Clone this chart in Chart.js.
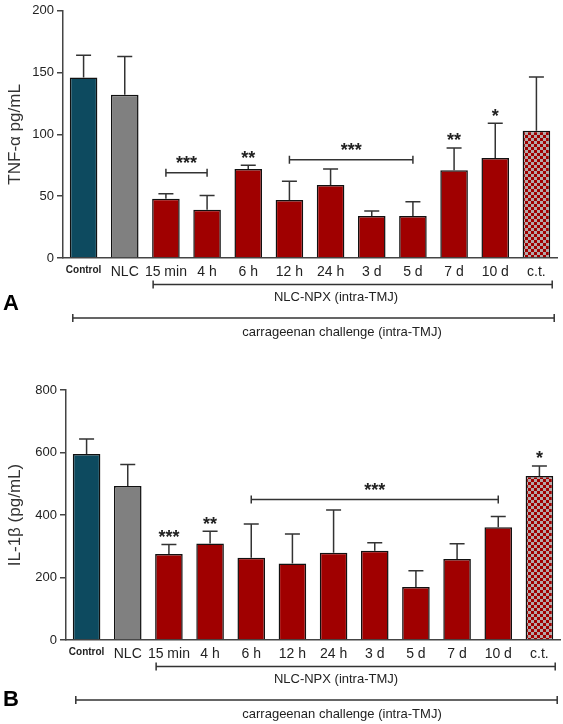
<!DOCTYPE html>
<html lang="en">
<head>
  <meta charset="UTF-8" />
  <title>TNF-α and IL-1β after carrageenan challenge</title>
  <script src="https://cdn.jsdelivr.net/npm/chart.js"></script>
  <style>
    body {
      margin: 0;
      background: #fff;
    }
    .panel {
      position: absolute;
      left: 0;
      width: 563px;
      height: 362px;
    }
    #panelA { top: 0; }
    #panelB { top: 362px; }
  </style>
</head>
<body>

<div class="panel" id="panelA"><canvas id="chartA" width="563" height="362"></canvas></div>
<div class="panel" id="panelB"><canvas id="chartB" width="563" height="362"></canvas></div>

<script>
  // groups on the x axis
  const categories = ['Control', 'NLC', '15 min', '4 h', '6 h', '12 h', '24 h', '3 d', '5 d', '7 d', '10 d', 'c.t.'];

  // panel A: TNF-alpha (pg/mL), mean and SEM
  const tnfMean = [146, 132, 48, 39, 72, 47, 59, 34, 34, 71, 81, 103];
  const tnfSem = [18, 31, 4, 11.5, 3, 15, 13, 4, 11.5, 18, 28, 43.5];
  const tnfStars = ['', '', '', '', '**', '', '', '', '', '**', '*', ''];
  // [from, to, label, height]
  const tnfBrackets = [[2, 3, '***', 69], [5, 8, '***', 79.5]];

  // panel B: IL-1beta (pg/mL), mean and SEM
  const il1bMean = [595, 493, 275, 309, 263, 245, 279, 286, 170, 259, 361, 525];
  const il1bSem = [48, 69, 31, 39, 108, 94, 137, 25, 52, 49, 34, 32];
  const il1bStars = ['', '', '***', '**', '', '', '', '', '', '', '', '*'];
  const il1bBrackets = [[4, 10, '***', 450]];

  const controlColor = '#0d4a5f';
  const nlcColor = '#808080';
  const red = '#a00000';
  const font = "'Liberation Sans', Arial, sans-serif";
  const narrow = "'Liberation Sans Narrow', 'Liberation Sans', Arial, sans-serif";

  // checkered fill for the c.t. bar
  function checker() {
    const c = document.createElement('canvas');
    c.width = 6;
    c.height = 6;
    const g = c.getContext('2d');
    g.fillStyle = '#b4a8a8';
    g.fillRect(0, 0, 6, 6);
    g.fillStyle = red;
    g.fillRect(0, 0, 3, 3);
    g.fillRect(3, 3, 3, 3);
    return g.createPattern(c, 'repeat');
  }

  const barColors = [controlColor, nlcColor, red, red, red, red, red, red, red, red, red, checker()];

  function drawStars(ctx, label, cx, cy) {
    ctx.font = 'bold 18px ' + font;
    ctx.textAlign = 'center';
    ctx.textBaseline = 'alphabetic';
    ctx.fillStyle = '#222';
    ctx.fillText(label, cx, cy + 0.58 * 18);
  }

  function hbar(ctx, x0, x1, py, tick) {
    ctx.beginPath();
    ctx.moveTo(x0, py);
    ctx.lineTo(x1, py);
    ctx.moveTo(x0, py - tick);
    ctx.lineTo(x0, py + tick);
    ctx.moveTo(x1, py - tick);
    ctx.lineTo(x1, py + tick);
    ctx.stroke();
  }

  // error bars, significance marks and the group lines below the axis
  const extras = {
    id: 'extras',
    afterDatasetsDraw(chart, args, opts) {
      const { ctx, scales: { x, y } } = chart;
      const meta = chart.getDatasetMeta(0);
      ctx.save();
      ctx.strokeStyle = '#333';
      ctx.lineWidth = 1.5;

      opts.mean.forEach((m, i) => {
        const px = meta.data[i].x;
        const y0 = y.getPixelForValue(m);
        const y1 = y.getPixelForValue(m + opts.sem[i]);
        ctx.beginPath();
        ctx.moveTo(px, y0);
        ctx.lineTo(px, y1);
        ctx.moveTo(px - 7.5, y1);
        ctx.lineTo(px + 7.5, y1);
        ctx.stroke();
        if (opts.stars[i]) drawStars(ctx, opts.stars[i], px, y1 - 12);
      });

      opts.brackets.forEach(([a, b, label, v]) => {
        const xa = x.getPixelForValue(a);
        const xb = x.getPixelForValue(b);
        const py = y.getPixelForValue(v);
        hbar(ctx, xa, xb, py, 4);
        drawStars(ctx, label, (xa + xb) / 2, py - 14);
      });

      const half = meta.data[0].width / 2;
      const base = y.bottom;
      ctx.font = '13px ' + font;
      ctx.textAlign = 'center';
      ctx.textBaseline = 'middle';
      ctx.fillStyle = '#222';

      hbar(ctx, x.getPixelForValue(2) - half + 1, x.getPixelForValue(11) + half + 2, base + 26.5, 4);
      ctx.fillText('NLC-NPX (intra-TMJ)', 336, base + 39);
      hbar(ctx, x.getPixelForValue(0) - half + 3, x.getPixelForValue(11) + half + 4, base + 60, 4);
      ctx.fillText('carrageenan challenge (intra-TMJ)', 342, base + 74);

      ctx.font = 'bold 22px ' + font;
      ctx.textAlign = 'left';
      ctx.fillStyle = '#000';
      ctx.fillText(opts.letter, 3, opts.letterY);
      ctx.restore();
    }
  };

  function makeChart(id, opts) {
    return new Chart(document.getElementById(id), {
      type: 'bar',
      data: {
        labels: categories,
        datasets: [{
          data: opts.mean,
          backgroundColor: barColors,
          borderColor: '#111',
          borderWidth: 1.5,
          barPercentage: 0.67,
          categoryPercentage: 1
        }]
      },
      options: {
        responsive: false,
        animation: false,
        layout: { padding: { top: opts.top, right: opts.right, left: 0, bottom: 0 } },
        plugins: {
          legend: { display: false },
          tooltip: { enabled: false },
          extras: opts
        },
        scales: {
          x: {
            afterFit(scale) { scale.height = opts.below; },
            grid: { display: false, drawTicks: false },
            border: { color: '#444', width: 1.5 },
            ticks: {
              padding: 6,
              color: '#222',
              maxRotation: 0,
              autoSkip: false,
              font: (c) => c.index === 0
                ? { family: font, size: 10, weight: 'bold' }
                : { family: narrow, size: 14 }
            }
          },
          y: {
            min: 0,
            max: opts.max,
            afterFit(scale) { scale.width = opts.left; },
            grid: { drawOnChartArea: false, drawTicks: true, tickLength: 6, color: '#444', lineWidth: 1.5 },
            border: { color: '#444', width: 1.5 },
            ticks: {
              stepSize: opts.step,
              padding: 3,
              color: '#222',
              font: { family: font, size: 13 }
            },
            title: {
              display: true,
              text: opts.title,
              color: '#333',
              padding: { top: 5, bottom: 0 },
              font: { family: font, size: 17 }
            }
          }
        }
      },
      plugins: [extras]
    });
  }

  makeChart('chartA', {
    mean: tnfMean, sem: tnfSem, stars: tnfStars, brackets: tnfBrackets,
    max: 200, step: 50, title: 'TNF-α pg/mL',
    top: 7, right: 6, left: 63, below: 104,
    letter: 'A', letterY: 304
  });

  makeChart('chartB', {
    mean: il1bMean, sem: il1bSem, stars: il1bStars, brackets: il1bBrackets,
    max: 800, step: 200, title: 'IL-1β (pg/mL)',
    top: 28, right: 3, left: 66, below: 84,
    letter: 'B', letterY: 338
  });
</script>

</body>
</html>
